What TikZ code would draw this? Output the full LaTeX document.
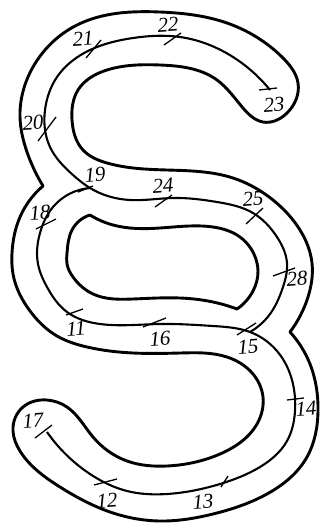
\documentclass[tikz,border=0pt]{standalone}
\usepackage{fontspec}
\usetikzlibrary{hobby}
\setmainfont{Liberation Serif}
\tikzset{
  outline/.style={line width=2.9pt,line join=round,line cap=round,use Hobby shortcut},
  wire/.style={line width=2.1pt,line join=round,use Hobby shortcut},
  tick/.style={line width=1.3pt},
  num/.style={inner sep=0pt,font=\itshape\fontsize{21}{21}\selectfont,rotate=4}
}
\begin{document}
\begin{tikzpicture}[x=1pt,y=-1pt]
\useasboundingbox (0,0) rectangle (320,527);
% outer contour
\draw[outline] (43,186)..(27,152)..(20,117)..(33,67)..(77,25)..(160,12)..(227,23)..(283,58)..(298,83)..(287,113)..(263,122)..(243,108)..(217,80)..(160,65)..(107,70)..(78,90)..(72,120)..(83,150)..(107,163)..(167,170)..(233,178)..(273,200)..(300,230)..(312,263)..(308,297)..(290,332);
\draw[outline] (290,332)..(310,364)..(318,411)..(307,457)..(267,494)..(213,514)..(160,521)..(110,512)..(60,487)..(20,451)..(13,431)..(23,407)..(47,400)..(67,407)..(93,437)..(127,461)..(167,466)..(220,454)..(257,424)..(263,397)..(253,374)..(227,357)..(180,353)..(133,353)..(87,347)..(57,336)..(30,311)..(13,274)..(12,253)..(20,217)..(43,186);
% inner hole
\draw[outline] (90,215)..(113,225)..(160,228)..(213,227)..(240,237)..(257,263)..(258,271)..(253,291)..(237,309);
\draw[outline] (237,309)..(213,302)..(180,298)..(133,299)..(93,294)..(73,277)..(67,264)..(67,253)..(72,230)..(90,215);
% centre lines
\draw[wire] (270,90)..(233,57)..(180,37)..(133,38)..(90,50)..(57,77)..(45,110)..(50,147)..(73,175)..(90,188)..(130,200)..(173,198)..(217,202)..(253,213)..(277,237)..(287,263)..(283,287)..(270,314)..(250,332);
\draw[wire] (90,188)..(53,207)..(40,233)..(38,264)..(47,287)..(67,312)..(100,324)..(160,324)..(213,326)..(250,332)..(277,351)..(293,384)..(295,411)..(287,441)..(260,467)..(220,484)..(167,494)..(127,491)..(90,474)..(47,432);
% ticks
\draw[tick]
 (86,58)--(101,40) (164,45)--(181,33) (259,90)--(277,88) (38,141)--(56,117)
 (78,192)--(93,186) (155,207)--(172,195) (246,224)--(263,208) (36,229)--(56,219)
 (273,276)--(295,268) (66,315)--(83,309) (143,327)--(166,318) (237,335)--(256,323)
 (287,400)--(304,398) (35,438)--(52,425) (94,485)--(117,479) (221,487)--(228,476);
% labels
\node[num] (n21) at (83,39) {21};
\node[num] (n22) at (168,25) {22};
\node[num] (n23) at (274,105) {23};
\node[num] (n20) at (33,123) {20};
\node[num] (n19) at (95,175) {19};
\node[num] (n24) at (163,186) {24};
\node[num] (n25) at (253,199) {25};
\node[num] (n18) at (40,213) {18};
\node[num] (n26) at (297,279) {28};
\node[num] (n11) at (76,329) {11};
\node[num] (n16) at (160,339) {16};
\node[num] (n15) at (248,347) {15};
\node[num] (n14) at (306,409) {14};
\node[num] (n17) at (33,421) {17};
\node[num] (n12) at (107,501) {12};
\node[num] (n13) at (203,502) {13};
\end{tikzpicture}
\end{document}
